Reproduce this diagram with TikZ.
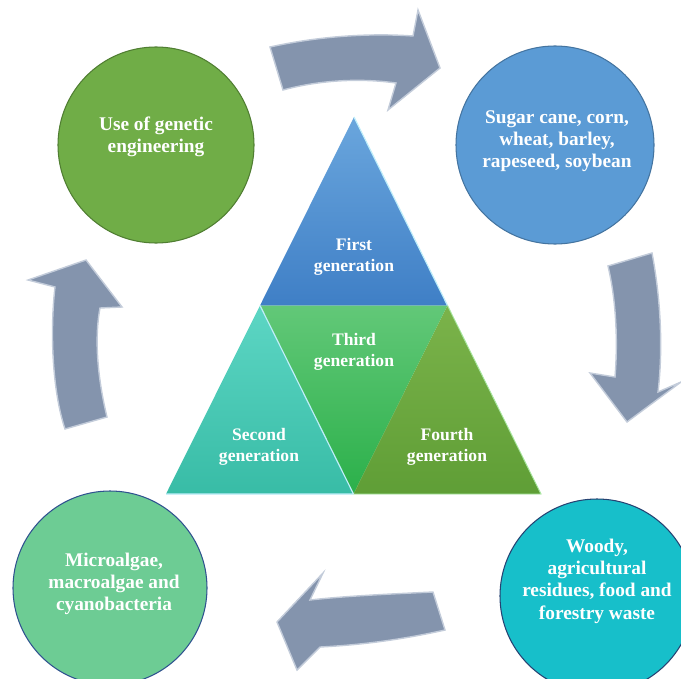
\documentclass[tikz,border=0pt]{standalone}
\usepackage{fontspec}
\setmainfont{Liberation Serif}
\definecolor{genGreen}{HTML}{70AD47}
\definecolor{genGreenEdge}{HTML}{507E32}
\definecolor{cropBlue}{HTML}{5B9BD5}
\definecolor{algaeMint}{HTML}{6DCC94}
\definecolor{wasteTeal}{HTML}{17BFCA}
\definecolor{darkEdge}{HTML}{2F528F}
\definecolor{arrowFill}{HTML}{8494AD}
\definecolor{arrowEdge}{HTML}{C3CCDA}
\definecolor{firstTop}{HTML}{6AA6DD}
\definecolor{firstBot}{HTML}{3F7FC6}
\definecolor{thirdTop}{HTML}{62C878}
\definecolor{thirdBot}{HTML}{2BB04A}
\definecolor{secondTop}{HTML}{5DD6C4}
\definecolor{secondBot}{HTML}{38BCA6}
\definecolor{fourthTop}{HTML}{7BB34A}
\definecolor{fourthBot}{HTML}{5F9E36}
\definecolor{edgeCyan}{HTML}{BFEEFA}
\definecolor{edgeLime}{HTML}{A8E6A0}
\begin{document}
\begin{tikzpicture}[x=0.03cm,y=-0.03cm,inner sep=0pt,outer sep=0pt,
bubble/.style={draw=darkEdge,circle,line width=0.9pt,minimum size=#1},
bubbletext/.style={text=white,align=center,font=\bfseries\fontsize{16.5}{19}\selectfont},
piecetext/.style={text=white,align=center,font=\bfseries\fontsize{15}{18}\selectfont},
bentarrow/.style={fill=arrowFill,draw=arrowEdge,line width=1.2pt,line join=miter}]
\useasboundingbox (0,0) rectangle (681,678);
\node[bubble=5.88cm,fill=genGreen,draw=genGreenEdge] (genetic) at (156,145) {};
\node[bubble=5.94cm,fill=cropBlue,draw=cropBlue!75!black] (crops) at (555,145) {};
\node[bubble=5.82cm,fill=algaeMint] (algae) at (110,588) {};
\node[bubble=5.82cm,fill=wasteTeal,draw=darkEdge!80!black] (waste) at (597,596) {};
\node[bubbletext] (genetictxt) at (156,137) {Use of genetic\\engineering};
\node[bubbletext] (cropstxt) at (557,141) {Sugar cane, corn,\\wheat, barley,\\rapeseed, soybean};
\node[bubbletext] (algaetxt) at (114,584) {Microalgae,\\macroalgae and\\cyanobacteria};
\node[bubbletext] (wastetxt) at (597,581) {Woody,\\agricultural\\residues, food and\\forestry waste};
\coordinate (apex) at (354,117);
\coordinate (bl) at (166,494);
\coordinate (br) at (541,494);
\coordinate (ml) at (260,305.5);
\coordinate (mr) at (447.5,305.5);
\coordinate (mb) at (353.5,494);
\shade[top color=firstTop,bottom color=firstBot] (apex) -- (mr) -- (ml) -- cycle;
\shade[top color=thirdTop,bottom color=thirdBot] (ml) -- (mr) -- (mb) -- cycle;
\shade[top color=secondTop,bottom color=secondBot] (ml) -- (mb) -- (bl) -- cycle;
\shade[top color=fourthTop,bottom color=fourthBot] (mr) -- (br) -- (mb) -- cycle;
\draw[edgeCyan,line width=1pt] (apex) -- (mr) (ml) -- (mb) (mb) -- (bl);
\draw[edgeLime,line width=0.8pt] (mr) -- (br) -- (mb);
\node[piecetext] (first) at (354,257) {First\\generation};
\node[piecetext] (third) at (354,352) {Third\\generation};
\node[piecetext] (second) at (259,447) {Second\\generation};
\node[piecetext] (fourth) at (447,447) {Fourth\\generation};
\draw[bentarrow] (270,47) .. controls (320,36) and (370,33) .. (413,36) -- (418,10) -- (440,68) -- (388,110) -- (396,83) .. controls (360,78) and (320,80) .. (283,90) -- cycle;
\draw[bentarrow] (608,266) .. controls (616,300) and (618,340) .. (615,377) -- (590,373) -- (627,422) -- (681,382) -- (658,392) .. controls (663,350) and (661,300) .. (652,253) -- cycle;
\draw[bentarrow] (433,592) .. controls (390,594) and (345,596) .. (310,600) -- (323,573) -- (277,622) -- (297,670) -- (320,647) .. controls (360,645) and (400,640) .. (445,630) -- cycle;
\draw[bentarrow] (65,429) .. controls (52,390) and (50,330) .. (55,287) -- (28,280) -- (86,260) -- (122,307) -- (100,308) .. controls (94,340) and (98,380) .. (107,417) -- cycle;
\end{tikzpicture}
\end{document}
